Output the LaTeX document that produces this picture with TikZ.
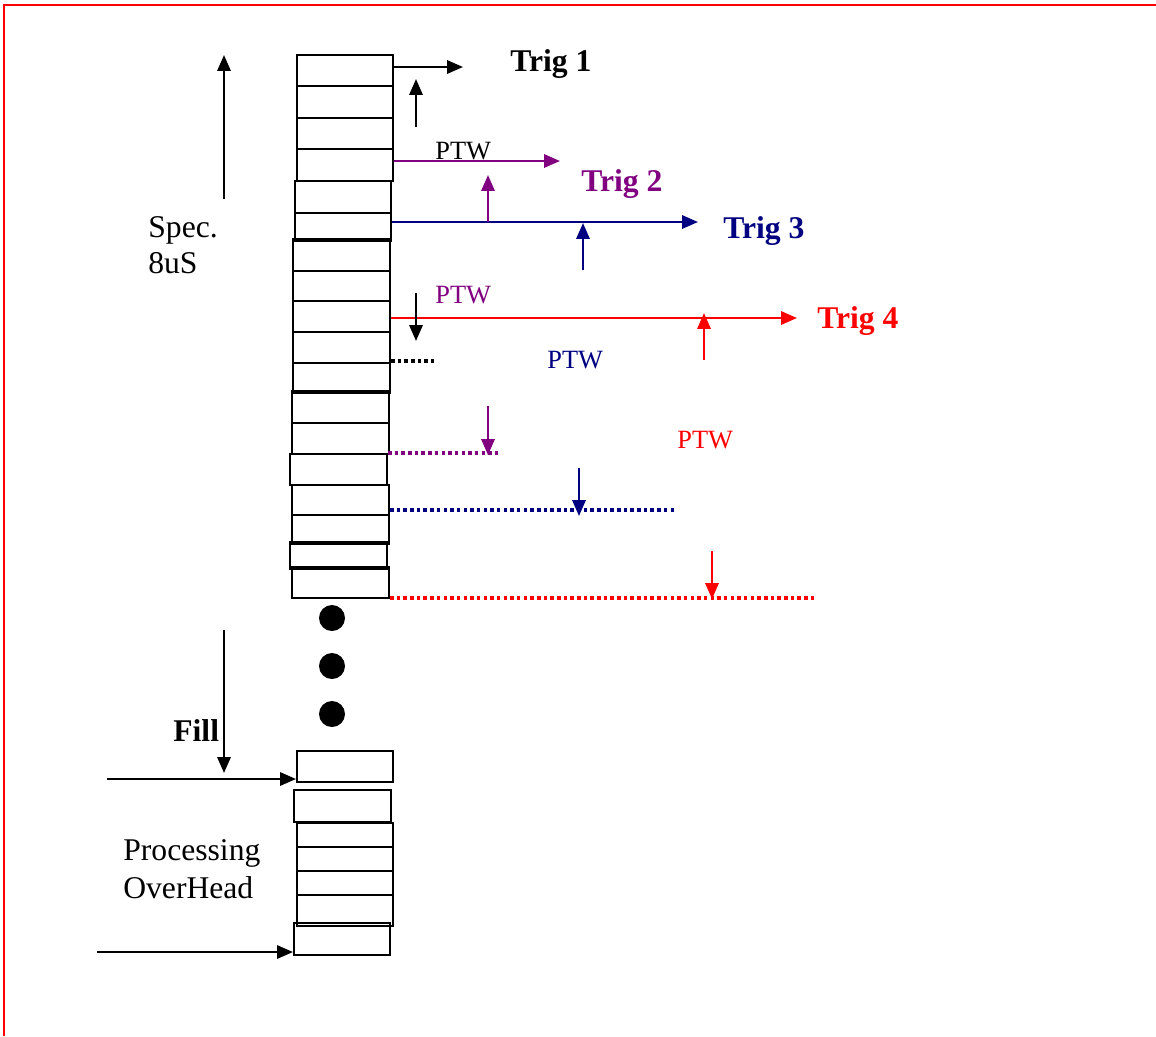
\documentclass[tikz,border=0pt]{standalone}
\usepackage{fontspec}
\setmainfont{Liberation Serif}
\usetikzlibrary{arrows.meta}
\definecolor{trigpurple}{RGB}{128,0,128}
\definecolor{trignavy}{RGB}{0,0,128}
\def \lbl {\fontsize{18}{21}\selectfont}
\def \sml {\fontsize{15}{18}\selectfont}

\begin{document}
\begin{tikzpicture}[x=0.02cm,y=-0.02cm]
\tikzstyle{arrow}=[-{Triangle[length=9pt,width=7.5pt]},line width=1.25pt];
\tikzstyle{cell}=[draw,line width=1.2pt,inner sep=0pt,anchor=north west];
\tikzstyle{dots}=[line width=1.8pt,dash pattern=on 2pt off 1.8pt];
\tikzstyle{lab}=[inner sep=0pt,anchor=base west];
\tikzstyle{dot}=[circle,fill,inner sep=0pt,minimum size=0.52cm];
\useasboundingbox (0,0) rectangle (1156,1036);
\draw[red,line width=1.6pt] (4,1036) -- (4,5) -- (1156,5);
\foreach \n/\x/\y/\w/\h in {1/296/54/96/31,2/296/85/96/32,3/296/117/96/31,4/296/148/96/32,
  5/294/180/96/32,6/294/212/96/28,7/292/238/97/32,8/292/270/97/30,9/292/300/97/31,
  10/292/331/97/31,11/292/362/97/30,12/291/390/97/32,13/291/422/97/31,14/289/453/97/31,
  15/291/484/97/30,16/291/514/97/29,17/289/541/97/27,18/291/566/97/31}
  \node[cell,minimum width=\w*0.02cm,minimum height=\h*0.02cm] (c\n) at (\x,\y) {};
\foreach \n/\x/\y/\w/\h in {1/296/750/96/31,2/293/789/97/32,3/296/822/96/24,4/296/846/96/24,
  5/296/870/96/24,6/296/894/96/31,7/293/922/96/32}
  \node[cell,minimum width=\w*0.02cm,minimum height=\h*0.02cm] (b\n) at (\x,\y) {};
\node[dot] (p1) at (332,618) {};
\node[dot] (p2) at (332,666) {};
\node[dot] (p3) at (332,714) {};
\node[lab,font=\lbl\bfseries] (t1) at (510,71) {Trig 1};
\node[lab,font=\lbl\bfseries,text=trigpurple] (t2) at (581,191) {Trig 2};
\node[lab,font=\lbl\bfseries,text=trignavy] (t3) at (723,238) {Trig 3};
\node[lab,font=\lbl\bfseries,text=red] (t4) at (817,328) {Trig 4};
\node[lab,font=\sml] (w1) at (435,159) {PTW};
\node[lab,font=\sml,text=trigpurple] (w2) at (435,303) {PTW};
\node[lab,font=\sml,text=trignavy] (w3) at (547,368) {PTW};
\node[lab,font=\sml,text=red] (w4) at (677,448) {PTW};
\node[lab,font=\lbl] (spec1) at (148,237) {Spec.};
\node[lab,font=\lbl] (spec2) at (148,273) {8uS};
\node[lab,font=\lbl\bfseries] (fill) at (173,741) {Fill};
\node[lab,font=\lbl] (proc1) at (123,860) {Processing};
\node[lab,font=\lbl] (proc2) at (123,898) {OverHead};
\coordinate (e1) at (463,67);
\coordinate (e2) at (560,161);
\coordinate (e3) at (698,222);
\coordinate (e4) at (797,318);
\draw [arrow] (c1.east |- e1) -- (e1);
\draw [arrow,trigpurple] (c4.east |- e2) -- (e2);
\draw [arrow,trignavy] (c6.east |- e3) -- (e3);
\draw [arrow,red] (c9.east |- e4) -- (e4);
\coordinate (u1) at (416,127); \coordinate (v1) at (416,79);
\coordinate (u2) at (488,222); \coordinate (v2) at (488,175);
\coordinate (u3) at (583,270); \coordinate (v3) at (583,223);
\coordinate (u4) at (704,360); \coordinate (v4) at (704,313);
\draw [arrow] (u1) -- (v1);
\draw [arrow,trigpurple] (u2) -- (v2);
\draw [arrow,trignavy] (u3) -- (v3);
\draw [arrow,red] (u4) -- (v4);
\coordinate (s1) at (416,293); \coordinate (f1) at (416,341);
\coordinate (s2) at (488,406); \coordinate (f2) at (488,455);
\coordinate (s3) at (579,468); \coordinate (f3) at (579,516);
\coordinate (s4) at (712,551); \coordinate (f4) at (712,599);
\draw [arrow] (s1) -- (f1);
\draw [arrow,trigpurple] (s2) -- (f2);
\draw [arrow,trignavy] (s3) -- (f3);
\draw [arrow,red] (s4) -- (f4);
\coordinate (d1) at (434,361);
\coordinate (d2) at (500,453);
\coordinate (d3) at (677,510);
\coordinate (d4) at (817,598);
\draw [dots] (c11.east |- d1) -- (d1);
\draw [dots,trigpurple] (c14.east |- d2) -- (d2);
\draw [dots,trignavy] (c15.east |- d3) -- (d3);
\draw [dots,red] (c18.east |- d4) -- (d4);
\coordinate (sp1) at (224,199); \coordinate (sp2) at (224,55);
\coordinate (fl1) at (224,630); \coordinate (fl2) at (224,773);
\draw [arrow] (sp1) -- (sp2);
\draw [arrow] (fl1) -- (fl2);
\coordinate (in1) at (107,779);
\coordinate (in2) at (97,952);
\draw [arrow] (in1) -- (in1 -| b1.west);
\draw [arrow] (in2) -- (in2 -| b7.west);
\end{tikzpicture}
\end{document}
